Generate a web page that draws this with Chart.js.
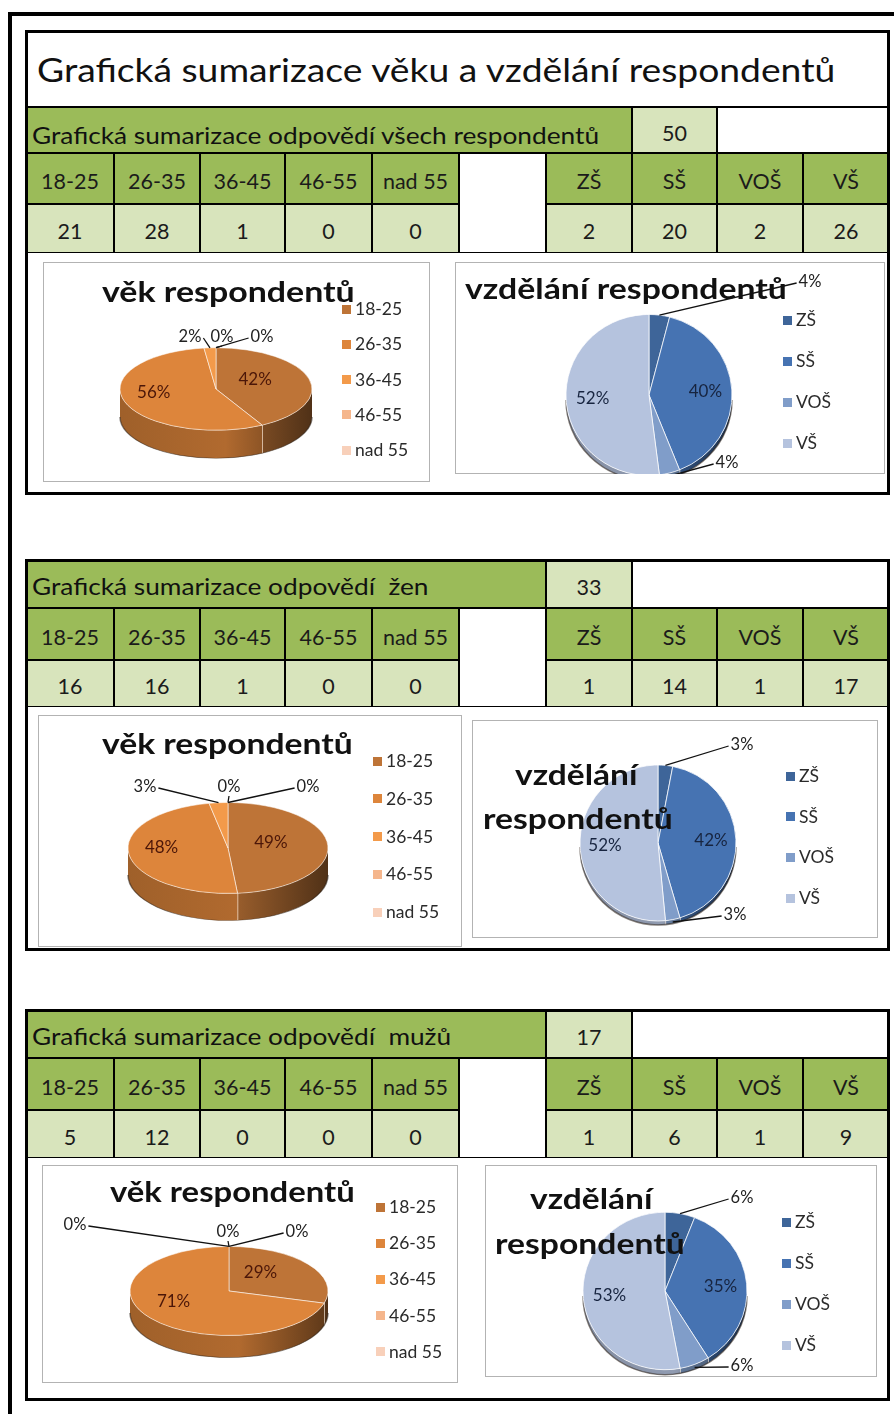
<!DOCTYPE html>
<html lang="cs">
<head>
<meta charset="utf-8">
<title>Grafická sumarizace věku a vzdělání respondentů</title>
<script src="https://cdn.jsdelivr.net/npm/chart.js@4.4.1/dist/chart.umd.min.js"></script>
<style>
  html, body { margin: 0; padding: 0; background: #fff; }
  body { width: 894px; height: 1414px; position: relative; overflow: hidden; font-family: Lato, "Open Sans", sans-serif; color: #111; }
  .a { position: absolute; box-sizing: border-box; }
  .bunka { border: 1px solid #000; display: flex; align-items: center; justify-content: center; padding-top: 5px; white-space: pre; font-size: 21.5px; color: #1b1b1b; }
  .zelena { background: #9bbb59; }
  .svetla { background: #d8e4bc; }
  .ramec { border: 3px solid #000; }
  .graf { border: 1px solid #b3b3b3; background: #fff; }
  .txt { white-space: pre; line-height: 1.2; transform-origin: 0 0; }
  .leg { font-size: 17.5px; line-height: 20px; height: 20px; display: flex; align-items: center; white-space: pre; color: #2a2a2a; }
  .leg i { display: inline-block; width: 9px; height: 9px; margin-right: 4px; }
</style>
</head>
<body>
<script>
// kategorie
const vekKategorie = ['18-25', '26-35', '36-45', '46-55', 'nad 55'];
const vzdelaniKategorie = ['ZŠ', 'SŠ', 'VOŠ', 'VŠ'];

// všichni respondenti
const pocetVsichni = 50;
const vekVsichni = [21, 28, 1, 0, 0];
const vzdelaniVsichni = [2, 20, 2, 26];

// ženy
const pocetZeny = 33;
const vekZeny = [16, 16, 1, 0, 0];
const vzdelaniZeny = [1, 14, 1, 17];

// muži
const pocetMuzi = 17;
const vekMuzi = [5, 12, 0, 0, 0];
const vzdelaniMuzi = [1, 6, 1, 9];

const vekBarvy = ['#be7437', '#dd853b', '#f39a4a', '#f5b68c', '#f8d0ba'];
const vzdelaniBarvy = ['#3e6599', '#4673b2', '#809dc9', '#b5c3de'];

// hranice sloupců tabulky
const sx = [26, 114, 200, 285, 372, 459, 546, 632, 717, 803, 889];

function el(cls, x, y, w, h, text) {
    const d = document.createElement('div');
    d.className = 'a ' + cls;
    d.style.left = x + 'px';
    d.style.top = y + 'px';
    if (w != null) d.style.width = w + 'px';
    if (h != null) d.style.height = h + 'px';
    if (text != null) d.textContent = text;
    document.body.appendChild(d);
    return d;
}

// text podle účaří; šířka se doladí zúžením (Calibri je užší než Lato)
function napis(text, x, baseline, fs, w, weight, pomer) {
    const d = el('txt', x, baseline - fs * 0.987, null, null, text);
    d.style.fontWeight = weight || 400;
    d.style.fontSize = fs + 'px';
    const k = pomer || (w ? w / d.offsetWidth : 1);
    d.style.transform = 'scaleX(' + k + ')';
    return k;
}

// procenta zaokrouhlená tak, aby dala 100
function procenta(h) {
    const s = h.reduce((a, b) => a + b, 0);
    const raw = h.map(v => v * 100 / s);
    const p = raw.map(Math.floor);
    const zbyva = 100 - p.reduce((a, b) => a + b, 0);
    raw.map((v, i) => [v - p[i], i])
        .sort((a, b) => b[0] - a[0] || a[1] - b[1])
        .slice(0, zbyva)
        .forEach(([, i]) => p[i]++);
    return p;
}

function tmavsi(hex, f) {
    const n = parseInt(hex.slice(1), 16);
    const r = Math.round(((n >> 16) & 255) * f), g = Math.round(((n >> 8) & 255) * f), b = Math.round((n & 255) * f);
    return 'rgb(' + r + ',' + g + ',' + b + ')';
}

// "3D" koláč: zploštění + boční stěna + popisky
const pie3d = {
    id: 'pie3d',
    beforeDatasetsDraw(chart, args, o) {
        const ctx = chart.ctx;
        const arcs = chart.getDatasetMeta(0).data;
        const cx = arcs[0].x, cy = arcs[0].y, r = arcs[0].outerRadius;
        const barvy = chart.data.datasets[0].backgroundColor;
        ctx.save();
        ctx.translate(cx, cy);
        ctx.scale(1, o.squash);
        ctx.translate(-cx, -cy);
        const d = o.depth / o.squash;
        arcs.forEach((a, i) => {
            const s = Math.max(a.startAngle, 0), e = Math.min(a.endAngle, Math.PI);
            if (e <= s) return;
            const g = ctx.createLinearGradient(cx - r, 0, cx + r, 0);
            g.addColorStop(0, tmavsi(barvy[i], 0.72));
            g.addColorStop(0.55, tmavsi(barvy[i], 0.8));
            g.addColorStop(1, tmavsi(barvy[i], 0.42));
            ctx.beginPath();
            ctx.arc(cx, cy, r, s, e);
            ctx.arc(cx, cy + d, r, e, s, true);
            ctx.closePath();
            ctx.fillStyle = g;
            ctx.fill();
            if (a.endAngle > 0 && a.endAngle < Math.PI) {
                ctx.beginPath();
                ctx.moveTo(cx + Math.cos(e) * r, cy + Math.sin(e) * r);
                ctx.lineTo(cx + Math.cos(e) * r, cy + Math.sin(e) * r + d);
                ctx.strokeStyle = 'rgba(255,240,225,0.8)';
                ctx.lineWidth = 1.5;
                ctx.stroke();
            }
        });
        ctx.beginPath();
        ctx.arc(cx, cy + d, r, 0, Math.PI);
        ctx.strokeStyle = 'rgba(40,30,20,0.55)';
        ctx.lineWidth = 1.5;
        ctx.stroke();
    },
    afterDatasetsDraw(chart, args, o) {
        const ctx = chart.ctx;
        ctx.restore();
        const arcs = chart.getDatasetMeta(0).data;
        const hodnoty = chart.data.datasets[0].data;
        const soucet = hodnoty.reduce((a, b) => a + b, 0);
        const pct = procenta(hodnoty);
        const cx = arcs[0].x, cy = arcs[0].y, r = arcs[0].outerRadius;
        let j = 0;
        ctx.save();
        ctx.textAlign = 'center';
        ctx.textBaseline = 'middle';
        arcs.forEach((a, i) => {
            const mid = (a.startAngle + a.endAngle) / 2;
            const t = pct[i] + '%';
            if (hodnoty[i] / soucet >= 0.07) {
                ctx.font = '17px Lato';
                ctx.fillStyle = o.barvaUvnitr;
                ctx.fillText(t, cx + Math.cos(mid) * r * o.k + o.posun[0],
                    cy + Math.sin(mid) * r * o.k * o.squash + o.posun[1]);
            } else {
                ctx.font = '16.5px Lato';
                const [dx, dy] = o.venku[j++];
                const lx = cx + dx, ly = cy + dy;
                const ex = cx + Math.cos(mid) * r;
                let ey = cy + Math.sin(mid) * r * o.squash;
                if (Math.sin(mid) > 0) ey += o.depth * 0.6;
                const tw = ctx.measureText(t).width;
                let ax, ay;
                if (Math.abs(lx - ex) < 14) { ax = lx; ay = ly + 9; }
                else if (lx > ex) { ax = lx - tw / 2 - 2; ay = ly + 1; }
                else { ax = lx + tw / 2 + 2; ay = ly + 1; }
                ctx.strokeStyle = '#111';
                ctx.lineWidth = 1.3;
                ctx.beginPath();
                ctx.moveTo(ex, ey);
                ctx.lineTo(ax, ay);
                ctx.stroke();
                ctx.fillStyle = '#222';
                ctx.fillText(t, lx, ly);
            }
        });
        ctx.restore();
    }
};

function graf(g, hodnoty, kategorie, barvy, barvaUvnitr, posun) {
    const [bx, by, bw, bh] = g.box;
    el('graf', bx, by, bw, bh);
    const cv = document.createElement('canvas');
    cv.width = bw;
    cv.height = bh;
    cv.className = 'a';
    cv.style.left = bx + 'px';
    cv.style.top = by + 'px';
    document.body.appendChild(cv);
    const px = g.stred[0] - bx, py = g.stred[1] - by;
    const pad = {
        left: Math.max(0, 2 * px - bw), right: Math.max(0, bw - 2 * px),
        top: Math.max(0, 2 * py - bh), bottom: Math.max(0, bh - 2 * py)
    };
    new Chart(cv, {
        type: 'pie',
        data: {
            labels: kategorie,
            datasets: [{
                data: hodnoty,
                backgroundColor: barvy,
                borderColor: 'rgba(255,255,255,0.75)',
                borderWidth: 1,
                radius: g.r,
                clip: false
            }]
        },
        options: {
            responsive: false,
            animation: false,
            events: [],
            layout: { padding: pad },
            plugins: {
                legend: { display: false },
                tooltip: { enabled: false },
                pie3d: { squash: g.squash, depth: g.hloubka, k: g.k, venku: g.venku, barvaUvnitr: barvaUvnitr, posun: posun }
            }
        },
        plugins: [pie3d]
    });
    // legenda
    kategorie.forEach((k, i) => {
        const d = el('leg', g.legenda[0], g.legenda[1] + i * g.legenda[2] - 10);
        const sw = document.createElement('i');
        sw.style.background = barvy[i];
        d.appendChild(sw);
        d.appendChild(document.createTextNode(k));
    });
    // titulek
    g.titulek.forEach(t => napis(t[0], t[1], t[2], 28, t[3], 700));
}

let popisPomer = 1;

function sekce(s) {
    const X = sx;
    let y = s.top;
    if (s.nadpis) {
        el('', X[0], y, X[10] - X[0], s.hNadpis).style.borderBottom = '1px solid #000';
        napis(s.nadpis, 37, y + 52, 33, 798);
        y += s.hNadpis;
    }
    const [h2, h3, h4] = s.radky;
    const c = s.sloupecPoctu;
    el('bunka zelena', X[0], y, X[c] - X[0], h2);
    if (s.nadpis) popisPomer = napis(s.popis, 32, y + h2 - 9, 22.5, 567);
    else napis(s.popis, 32, y + h2 - 13, 22.5, null, 400, popisPomer);
    el('bunka svetla', X[c], y, X[c + 1] - X[c], h2, String(s.pocet));
    el('bunka', X[c + 1], y, X[10] - X[c + 1], h2);
    y += h2;
    vekKategorie.forEach((k, i) => el('bunka zelena', X[i], y, X[i + 1] - X[i], h3, k));
    el('bunka', X[5], y, X[6] - X[5], h3 + h4);
    vzdelaniKategorie.forEach((k, i) => el('bunka zelena', X[6 + i], y, X[7 + i] - X[6 + i], h3, k));
    y += h3;
    s.vek.forEach((v, i) => el('bunka svetla', X[i], y, X[i + 1] - X[i], h4, String(v)));
    s.vzdelani.forEach((v, i) => el('bunka svetla', X[6 + i], y, X[7 + i] - X[6 + i], h4, String(v)));
    el('ramec', X[0] - 1, s.top - 1, X[10] - X[0] + 2, s.bottom - s.top + 2);
    graf(s.vekGraf, s.vek, vekKategorie, vekBarvy, '#4b1608', [-12, -4]);
    graf(s.vzdGraf, s.vzdelani, vzdelaniKategorie, vzdelaniBarvy, '#17243f', [0, 0]);
}

// vnější rámeček stránky
el('', 8, 12, 1000, 1500).style.border = '4px solid #000';

sekce({
    top: 31, bottom: 494, nadpis: 'Grafická sumarizace věku a vzdělání respondentů', hNadpis: 76,
    radky: [46, 51, 49], sloupecPoctu: 7,
    popis: 'Grafická sumarizace odpovědí všech respondentů', pocet: pocetVsichni,
    vek: vekVsichni, vzdelani: vzdelaniVsichni,
    vekGraf: { box: [43, 262, 387, 220], stred: [216, 389], r: 96, squash: 0.43, hloubka: 28, k: 0.55,
        venku: [[-26, -52], [6, -52], [46, -52]], legenda: [342, 309, 35.3],
        titulek: [['věk respondentů', 102, 303, 253]] },
    vzdGraf: { box: [455, 262, 430, 212], stred: [649, 395], r: 83, squash: 0.97, hloubka: 5, k: 0.68,
        venku: [[161, -113], [78, 68]], legenda: [783, 320, 41],
        titulek: [['vzdělání respondentů', 465, 300, 322]] }
});

sekce({
    top: 560, bottom: 950, radky: [48, 52, 47], sloupecPoctu: 6,
    popis: 'Grafická sumarizace odpovědí  žen', pocet: pocetZeny,
    vek: vekZeny, vzdelani: vzdelaniZeny,
    vekGraf: { box: [38, 715, 424, 232], stred: [228, 848], r: 100, squash: 0.455, hloubka: 27, k: 0.55,
        venku: [[-83, -61], [1, -61], [80, -61]], legenda: [373, 761, 37.8],
        titulek: [['věk respondentů', 102, 755, 251]] },
    vzdGraf: { box: [472, 720, 406, 218], stred: [658, 843], r: 78, squash: 1.0, hloubka: 4, k: 0.68,
        venku: [[84, -98], [77, 72]], legenda: [786, 776, 40.7],
        titulek: [['vzdělání', 515, 786, 122], ['respondentů', 483, 830, 190]] }
});

sekce({
    top: 1010, bottom: 1400, radky: [48, 52, 48], sloupecPoctu: 6,
    popis: 'Grafická sumarizace odpovědí  mužů', pocet: pocetMuzi,
    vek: vekMuzi, vzdelani: vzdelaniMuzi,
    vekGraf: { box: [42, 1165, 416, 218], stred: [229, 1291], r: 99, squash: 0.45, hloubka: 22, k: 0.55,
        venku: [[-154, -66], [-1, -59], [68, -59]], legenda: [376, 1207, 36.2],
        titulek: [['věk respondentů', 110, 1203, 245]] },
    vzdGraf: { box: [485, 1165, 392, 212], stred: [665, 1291], r: 82, squash: 0.96, hloubka: 5, k: 0.68,
        venku: [[77, -93], [77, 75]], legenda: [782, 1222, 41],
        titulek: [['vzdělání', 530, 1210, 122], ['respondentů', 495, 1255, 190]] }
});
</script>
</body>
</html>
